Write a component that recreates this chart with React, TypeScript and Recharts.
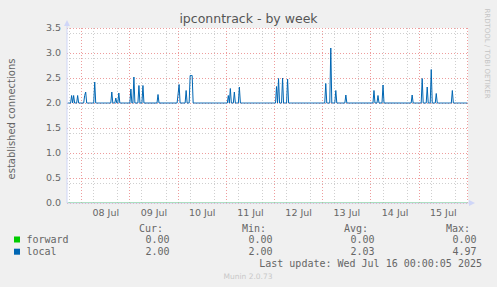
import React from 'react';
import { LineChart, Line, XAxis, YAxis, CartesianGrid } from 'recharts';

// hours counted from 07 Jul 00:00, 30 min samples (munin week view)
const timeDomain: [number, number] = [16.7, 216.3];
const sampleStart = 17;
const sampleEnd = 216;
const sampleStep = 0.5;

const dayLabels = ['08 Jul', '09 Jul', '10 Jul', '11 Jul', '12 Jul', '13 Jul', '14 Jul', '15 Jul'];
const dayLabelHours = [36, 60, 84, 108, 132, 156, 180, 204];
const midnightHours = [24, 48, 72, 96, 120, 144, 168, 192, 216];
const yTicks = [0, 0.5, 1, 1.5, 2, 2.5, 3, 3.5];

// forward stays at 0, local sits at 2.00 apart from these spikes [hour, value]
const forwardValue = 0;
const localBaseline = 2.0;
const localSpikes: [number, number][] = [
  [19, 2.15], [20, 2.15], [22, 2.15], [25.5, 2.15], [26, 2.22], [30.5, 2.42],
  [39, 2.22], [41, 2.1], [42.5, 2.2], [48.5, 2.28], [50, 2.52], [52.5, 2.35],
  [54.5, 2.35], [62, 2.17], [72, 2.18], [72.5, 2.37], [76, 2.25], [78, 2.55],
  [78.5, 2.55], [79, 2.55], [97, 2.15], [98, 2.29], [100, 2.22], [102.5, 2.32],
  [121, 2.33], [122, 2.49], [124, 2.5], [126.5, 2.48], [145.5, 2.39], [148, 3.1],
  [150.5, 2.25], [155.5, 2.16], [169.5, 2.25], [171.5, 2.15], [174, 2.36],
  [188.5, 2.16], [193.5, 2.49], [196, 2.32], [198, 2.67], [200.5, 2.19], [208.5, 2.25],
];

const legendRows = [
  { name: 'forward', color: '#00CC00', cur: '0.00', min: '0.00', avg: '0.00', max: '0.00' },
  { name: 'local', color: '#0066B3', cur: '2.00', min: '2.00', avg: '2.03', max: '4.97' },
];

const spikeMap = new Map(localSpikes.map(([t, v]) => [t, v]));
const chartData: { t: number; local: number; forward: number }[] = [];
for (let t = sampleStart; t <= sampleEnd; t += sampleStep) {
  chartData.push({ t, local: spikeMap.get(t) ?? localBaseline, forward: forwardValue });
}

const minorY: number[] = [];
for (let i = 1; i < 35; i++) if (i % 5 !== 0) minorY.push(i / 10);
const minorX: number[] = [];
for (let h = 18; h < 216; h += 6) if (h % 24 !== 0) minorX.push(h);

const sans = 'DejaVu Sans, sans-serif';
const mono = 'DejaVu Sans Mono, monospace';
const fontColor = '#666666';
const axisColor = '#CFD6F8';

export default function App() {
  return (
    <div style={{ position: 'absolute', left: 0, top: 0, width: 497, height: 287, background: '#F0F0F0' }}>
      <LineChart width={497} height={287} data={chartData} margin={{ top: 28, right: 29, bottom: 64, left: 27 }}>
        <CartesianGrid
          fill="#FFFFFF"
          stroke="#CFCFCF"
          strokeDasharray="1 2"
          shapeRendering="crispEdges"
          horizontalValues={minorY}
          verticalValues={minorX}
        />
        <CartesianGrid
          stroke="#EE9C9C"
          strokeDasharray="1 2"
          shapeRendering="crispEdges"
          horizontalValues={yTicks}
          verticalValues={midnightHours}
        />
        <XAxis
          type="number"
          dataKey="t"
          domain={timeDomain}
          ticks={dayLabelHours}
          tickFormatter={(v: number) => dayLabels[dayLabelHours.indexOf(v)] ?? ''}
          axisLine={{ stroke: axisColor }}
          tickLine={false}
          tickSize={0}
          tickMargin={6}
          height={20}
          allowDataOverflow
          tick={{ fill: fontColor, fontSize: 9.5, fontFamily: sans }}
        />
        <YAxis
          type="number"
          domain={[0, 3.5]}
          ticks={yTicks}
          tickFormatter={(v: number) => v.toFixed(1)}
          axisLine={{ stroke: axisColor }}
          tickLine={false}
          tickSize={0}
          tickMargin={6}
          width={40}
          allowDataOverflow
          tick={{ fill: fontColor, fontSize: 9.5, fontFamily: sans }}
        />
        <Line dataKey="forward" stroke="#00CC00" strokeWidth={1} dot={false} type="linear" isAnimationActive={false} />
        <Line dataKey="local" stroke="#0066B3" strokeWidth={1} dot={false} type="linear" isAnimationActive={false} />
      </LineChart>
      <svg width={497} height={287} style={{ position: 'absolute', left: 0, top: 0, pointerEvents: 'none' }}>
        <line x1={67} y1={22} x2={67} y2={28} stroke={axisColor} />
        <polygon points="64,26 70,26 67,20" fill={axisColor} />
        <line x1={468} y1={203} x2={472} y2={203} stroke={axisColor} />
        <polygon points="469,200 469,206 475,203" fill={axisColor} />
        <text x={248.5} y={22.5} textAnchor="middle" fontFamily={sans} fontSize={12.5} fill="#555">
          ipconntrack - by week
        </text>
        <text
          transform="translate(14.5,119) rotate(-90)"
          textAnchor="middle"
          fontFamily={sans}
          fontSize={10}
          fill={fontColor}
        >
          established connections
        </text>
        <text
          transform="translate(484.5,53.5) rotate(90)"
          textAnchor="middle"
          fontFamily={sans}
          fontSize={7}
          fill="#C4C4C4"
        >
          RRDTOOL / TOBI OETIKER
        </text>
        <g fontFamily={mono} fontSize={10} fill={fontColor}>
          <text x={163} y={231.5} textAnchor="end">Cur:</text>
          <text x={266} y={231.5} textAnchor="end">Min:</text>
          <text x={368} y={231.5} textAnchor="end">Avg:</text>
          <text x={470} y={231.5} textAnchor="end">Max:</text>
          {legendRows.map((r, i) => {
            const y = 243 + i * 12.2;
            return (
              <g key={r.name}>
                <rect x={14} y={y - 6.5} width={6} height={6} fill={r.color} />
                <text x={26.5} y={y}>{r.name}</text>
                <text x={169.5} y={y} textAnchor="end">{r.cur}</text>
                <text x={272.5} y={y} textAnchor="end">{r.min}</text>
                <text x={374.5} y={y} textAnchor="end">{r.avg}</text>
                <text x={476.5} y={y} textAnchor="end">{r.max}</text>
              </g>
            );
          })}
          <text x={482} y={266.7} textAnchor="end">Last update: Wed Jul 16 00:00:05 2025</text>
        </g>
        <text x={248} y={279} textAnchor="middle" fontFamily={sans} fontSize={7.5} fill="#C8C8C8">
          Munin 2.0.73
        </text>
      </svg>
    </div>
  );
}
